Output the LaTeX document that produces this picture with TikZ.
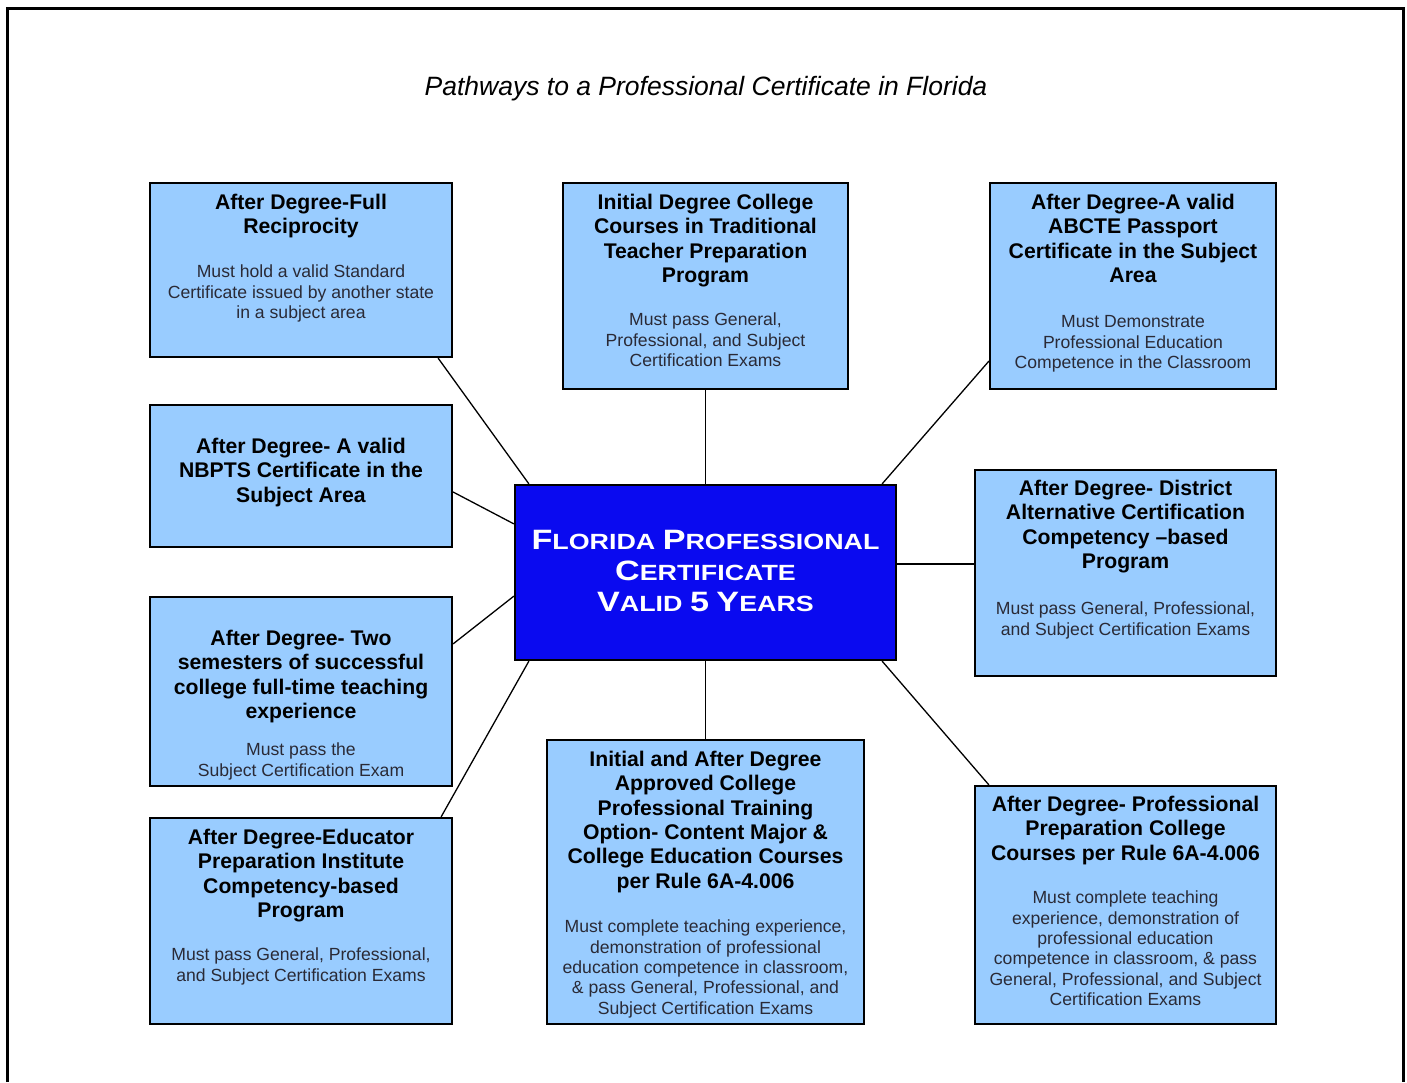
\documentclass[tikz,border=0pt]{standalone}
\usepackage{fontspec}
\setmainfont{Liberation Sans}
\newfontfamily\capfont{Liberation Sans}[FakeStretch=1.22]
\usetikzlibrary{calc}
\definecolor{boxfill}{HTML}{99CCFF}
\definecolor{centerfill}{HTML}{0A0AF0}
\definecolor{bodytext}{HTML}{2A2A36}
\newcommand\mybigcap[1]{{\fontsize{28}{31}\selectfont #1}}
\tikzset{
  pbox/.style={draw=black, line width=2.2pt, fill=boxfill, inner sep=0pt},
  head/.style={anchor=north, align=center, inner sep=0pt, text=black, yshift=-1.5pt,
    font=\fontsize{21.2}{24.3}\selectfont\bfseries},
  body/.style={anchor=north, align=center, inner sep=0pt, text=bodytext, yshift=-1.5pt,
    font=\fontsize{17.6}{20.3}\selectfont},
  link/.style={draw=black, line width=1.3pt},
}
\begin{document}
\begin{tikzpicture}[x=1pt,y=-1pt]
\useasboundingbox (0,0) rectangle (1407,1082);
\fill[white] (0,0) rectangle (1407,1082);
\draw[line width=3pt] (7,1082) -- (7,8) -- (1403,8) -- (1403,1082);

\node[anchor=base, font=\fontsize{26.5}{30}\selectfont\itshape] (title) at (706,95)
  {Pathways to a Professional Certificate in Florida};

% boxes
\node[pbox, minimum width=302, minimum height=174] (b1) at (301,270) {};
\node[pbox, minimum width=285, minimum height=206] (b2) at (705.5,286) {};
\node[pbox, minimum width=286, minimum height=206] (b3) at (1133,286) {};
\node[pbox, minimum width=302, minimum height=142] (b4) at (301,476) {};
\node[pbox, minimum width=301, minimum height=206] (b6) at (1125.5,573) {};
\node[pbox, minimum width=302, minimum height=189] (b7) at (301,691.5) {};
\node[pbox, minimum width=302, minimum height=206] (b8) at (301,921) {};
\node[pbox, minimum width=317, minimum height=284] (b9) at (705.5,882) {};
\node[pbox, minimum width=301, minimum height=238] (b10) at (1125.5,905) {};
\node[draw=black, line width=2.2pt, fill=centerfill, inner sep=0pt,
  minimum width=381, minimum height=175] (c) at (705.5,572.5) {};
\node[align=center, text=white, inner sep=0pt, yshift=2pt,
  font=\capfont\bfseries\fontsize{22}{31}\selectfont] (ct) at (c.center)
  {\mybigcap{F}LORIDA \mybigcap{P}ROFESSIONAL\\\mybigcap{C}ERTIFICATE\\\mybigcap{V}ALID \mybigcap{5} \mybigcap{Y}EARS};

% texts
\node[head] (h1) at ($(b1.north)+(0,9)$) {\strut After Degree-Full\\Reciprocity};
\node[body] (t1) at ($(b1.north)+(0,80)$) {\strut Must hold a valid Standard\\Certificate issued by another state\\in a subject area};

\node[head] (h2) at ($(b2.north)+(0,9)$) {\strut Initial Degree College\\Courses in Traditional\\Teacher Preparation\\Program};
\node[body] (t2) at ($(b2.north)+(0,128)$) {\strut Must pass General,\\Professional, and Subject\\Certification Exams};

\node[head] (h3) at ($(b3.north)+(0,9)$) {\strut After Degree-A valid\\ABCTE Passport\\Certificate in the Subject\\Area};
\node[body] (t3) at ($(b3.north)+(0,130)$) {\strut Must Demonstrate\\Professional Education\\Competence in the Classroom};

\node[head] (h4) at ($(b4.north)+(0,31)$) {\strut After Degree- A valid\\NBPTS Certificate in the\\Subject Area};

\node[head] (h6) at ($(b6.north)+(0,8)$) {\strut After Degree- District\\Alternative Certification\\Competency --based\\Program};
\node[body] (t6) at ($(b6.north)+(0,130)$) {\strut Must pass General, Professional,\\and Subject Certification Exams};

\node[head] (h7) at ($(b7.north)+(0,31)$) {\strut After Degree- Two\\semesters of successful\\college full-time teaching\\experience};
\node[body] (t7) at ($(b7.north)+(0,144)$) {\strut Must pass the\\Subject Certification Exam};

\node[head] (h8) at ($(b8.north)+(0,9)$) {\strut After Degree-Educator\\Preparation Institute\\Competency-based\\Program};
\node[body] (t8) at ($(b8.north)+(0,128)$) {\strut Must pass General, Professional,\\and Subject Certification Exams};

\node[head] (h9) at ($(b9.north)+(0,9)$) {\strut Initial and After Degree\\Approved College\\Professional Training\\Option- Content Major \&\\College Education Courses\\per Rule 6A-4.006};
\node[body] (t9) at ($(b9.north)+(0,178)$) {\strut Must complete teaching experience,\\demonstration of professional\\education competence in classroom,\\\& pass General, Professional, and\\Subject Certification Exams};

\node[head] (h10) at ($(b10.north)+(0,8)$) {\strut After Degree- Professional\\Preparation College\\Courses per Rule 6A-4.006};
\node[body] (t10) at ($(b10.north)+(0,103)$) {\strut Must complete teaching\\experience, demonstration of\\professional education\\competence in classroom, \& pass\\General, Professional, and Subject\\Certification Exams};

% connectors
\draw[link] ($(b1.south east)+(-15,0)$) -- ($(c.north west)+(15,0)$);
\draw[link] (b2.south) -- (c.north);
\draw[link] ($(b3.south west)+(0,-29)$) -- ($(c.north east)+(-15,0)$);
\draw[link] ($(b4.east)+(0,16)$) -- ($(c.north west)+(0,40)$);
\draw[link] ($(c.east)+(0,-8.5)$) -- ($(b6.west)+(0,-9)$);
\draw[link] ($(b7.north east)+(0,48)$) -- ($(c.south west)+(0,-65)$);
\draw[link] ($(b8.north east)+(-12,0)$) -- ($(c.south west)+(15,0)$);
\draw[link] (c.south) -- (b9.north);
\draw[link] ($(c.south east)+(-15,0)$) -- ($(b10.north west)+(15,0)$);
\end{tikzpicture}
\end{document}
